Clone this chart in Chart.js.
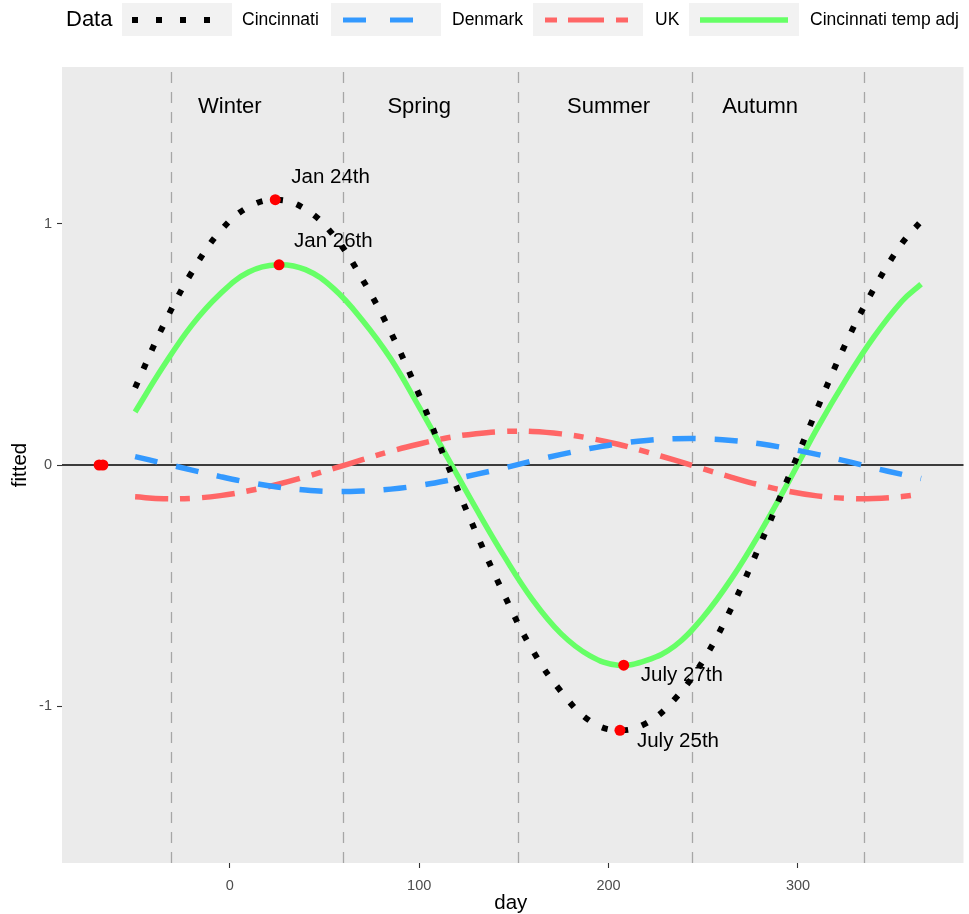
<!DOCTYPE html>
<html><head><meta charset="utf-8">
<script src="https://cdn.jsdelivr.net/npm/chart.js@4.4.1/dist/chart.umd.min.js"></script>
<style>html,body{margin:0;padding:0;background:#fff;} #wrap{width:969px;height:914px;}</style>
</head><body><div id="wrap"><canvas id="c" width="969" height="914"></canvas></div>
<script>
// ---- data ----
const days          = [-50, -35, -20, -5, 10, 25, 40, 55, 70, 85, 100, 115, 130, 145, 160, 175, 190, 205, 220, 235, 250, 265, 280, 295, 310, 325, 340, 355, 365];
const cincinnati    = [0.32, 0.58, 0.80, 0.97, 1.07, 1.10, 1.06, 0.95, 0.77, 0.55, 0.29, 0.00, -0.28, -0.54, -0.77, -0.94, -1.06, -1.10, -1.07, -0.97, -0.81, -0.59, -0.33, -0.05, 0.23, 0.50, 0.73, 0.92, 1.01];
const denmark       = [0.035, 0.007, -0.021, -0.048, -0.072, -0.091, -0.104, -0.110, -0.108, -0.100, -0.085, -0.064, -0.039, -0.012, 0.017, 0.044, 0.068, 0.088, 0.102, 0.109, 0.109, 0.102, 0.088, 0.068, 0.044, 0.017, -0.012, -0.039, -0.056];
const uk            = [-0.132, -0.140, -0.138, -0.127, -0.107, -0.081, -0.049, -0.014, 0.022, 0.057, 0.087, 0.113, 0.130, 0.139, 0.139, 0.129, 0.111, 0.086, 0.054, 0.020, -0.016, -0.051, -0.083, -0.109, -0.128, -0.138, -0.139, -0.131, -0.121];
const cincinnatiAdj = [0.22, 0.41, 0.58, 0.71, 0.80, 0.83, 0.81, 0.73, 0.60, 0.44, 0.24, 0.03, -0.18, -0.38, -0.56, -0.70, -0.79, -0.83, -0.81, -0.75, -0.63, -0.47, -0.28, -0.07, 0.15, 0.35, 0.53, 0.68, 0.75];
const seriesNames   = ['Cincinnati', 'Denmark', 'UK', 'Cincinnati temp adj'];
const legendTitle   = 'Data';

const peakDays   = [24, 26, 208, 206];
const peakValues = [1.1, 0.83, -0.83, -1.1];
const peakLabels = ['Jan 24th', 'Jan 26th', 'July 27th', 'July 25th'];
const zeroDays   = [-69, -67];

const seasonBreaks  = [-31, 60, 152, 244, 335];
const seasonNames   = ['Winter', 'Spring', 'Summer', 'Autumn'];
const seasonCenters = [0, 100, 200, 280];
const seasonLabelY  = 1.485;

const xTicks = [0, 100, 200, 300];
const yTicks = [-1, 0, 1];
const xTitle = 'day';
const yTitle = 'fitted';

// ---- styling ----
const FONT = '"Liberation Sans", Arial, Helvetica, sans-serif';
const COL = {cin:'#000000', den:'#3399FF', uk:'#FF6666', adj:'#66FF66'};
const labelOffsets = [[16,-22],[15,-23],[17,10],[17,11]];

const pts = (vals) => days.map((d,i)=>({x:d, y:vals[i]}));

const deco = {
  id: 'deco',
  beforeDraw(chart){
    const {ctx, chartArea:a} = chart;
    ctx.save();
    ctx.fillStyle = '#EBEBEB';
    ctx.fillRect(a.left, a.top, a.right-a.left, a.bottom-a.top);
    ctx.restore();
  },
  beforeDatasetsDraw(chart){
    const {ctx, chartArea:a, scales:{x, y}} = chart;
    ctx.save();
    ctx.strokeStyle = '#A6A6A6'; ctx.lineWidth = 1.3; ctx.setLineDash([11,9]);
    seasonBreaks.forEach(d => {
      const px = Math.round(x.getPixelForValue(d)) + 0.5;
      ctx.beginPath(); ctx.moveTo(px, a.bottom); ctx.lineTo(px, a.top); ctx.stroke();
    });
    ctx.setLineDash([]);
    ctx.strokeStyle = '#000'; ctx.lineWidth = 1.5;
    const py = y.getPixelForValue(0);
    ctx.beginPath(); ctx.moveTo(a.left, py); ctx.lineTo(a.right, py); ctx.stroke();
    ctx.fillStyle = '#000'; ctx.font = '22px ' + FONT; ctx.textAlign = 'center'; ctx.textBaseline = 'middle';
    seasonNames.forEach((n,i) => ctx.fillText(n, x.getPixelForValue(seasonCenters[i]), y.getPixelForValue(seasonLabelY)));
    ctx.restore();
  },
  afterDatasetsDraw(chart){
    const {ctx, scales:{x, y}} = chart;
    ctx.save();
    ctx.fillStyle = '#000'; ctx.font = '20.5px ' + FONT; ctx.textAlign = 'left'; ctx.textBaseline = 'middle';
    peakLabels.forEach((t,i) => {
      ctx.fillText(t, x.getPixelForValue(peakDays[i]) + labelOffsets[i][0], y.getPixelForValue(peakValues[i]) + labelOffsets[i][1]);
    });
    ctx.restore();
  },
  afterDraw(chart){
    const {ctx, chartArea:a} = chart;
    ctx.save();
    // axis titles
    ctx.fillStyle = '#000'; ctx.font = '20.5px ' + FONT; ctx.textAlign = 'center'; ctx.textBaseline = 'middle';
    ctx.fillText(xTitle, (a.left + a.right)/2 - 2, 903);
    ctx.save(); ctx.translate(20, (a.top + a.bottom)/2); ctx.rotate(-Math.PI/2); ctx.fillText(yTitle, 0, 0); ctx.restore();
    // legend
    ctx.textAlign = 'left';
    ctx.font = '22px ' + FONT;
    ctx.fillText(legendTitle, 66, 20);
    const boxes = [122, 331, 533, 689];
    const labX  = [242, 452, 655, 810];
    ctx.fillStyle = '#F2F2F2';
    boxes.forEach(b => ctx.fillRect(b, 3, 110, 33));
    ctx.fillStyle = '#000'; ctx.font = '17.5px ' + FONT;
    seriesNames.forEach((n,i) => ctx.fillText(n, labX[i], 20));
    const keys = [
      {c:COL.cin, w:6, dash:[6,18], x0:132, x1:212},
      {c:COL.den, w:5, dash:[23,24], x0:343, x1:414},
      {c:COL.uk,  w:5, dash:[12,11,36,12], x0:545, x1:628},
      {c:COL.adj, w:5.5, dash:[], x0:700, x1:788}
    ];
    ctx.lineCap = 'butt';
    keys.forEach(k => {
      ctx.strokeStyle = k.c; ctx.lineWidth = k.w; ctx.setLineDash(k.dash);
      ctx.beginPath(); ctx.moveTo(k.x0, 20); ctx.lineTo(k.x1, 20); ctx.stroke();
    });
    ctx.restore();
  }
};

const lineDs = (label, vals, color, width, dash) => ({
  type: 'scatter', label, data: pts(vals), showLine: true, borderColor: color, backgroundColor: color,
  borderWidth: width, borderDash: dash, borderCapStyle: 'butt', pointRadius: 0, pointHoverRadius: 0, tension: 0.4, fill: false
});

new Chart(document.getElementById('c'), {
  type: 'scatter',
  data: {
    datasets: [
      {type:'scatter', label:'peaks', data: peakDays.map((d,i)=>({x:d, y:peakValues[i]})).concat(zeroDays.map(d=>({x:d, y:0}))),
       pointRadius: 5.5, pointBackgroundColor: '#FF0000', pointBorderWidth: 0, showLine: false},
      lineDs(seriesNames[0], cincinnati, COL.cin, 6, [6,14.5]),
      lineDs(seriesNames[1], denmark, COL.den, 5.5, [23,19]),
      lineDs(seriesNames[2], uk, COL.uk, 5.5, [33,12,10,12]),
      lineDs(seriesNames[3], cincinnatiAdj, COL.adj, 5.5, [])
    ]
  },
  options: {
    responsive: false, animation: false,
    layout: {padding: {top: 67, right: 0, left: 0, bottom: 0}},
    plugins: {legend: {display: false}, tooltip: {enabled: false}},
    scales: {
      x: {
        type: 'linear', min: -88.6, max: 387.4,
        afterBuildTicks: s => { s.ticks = xTicks.map(v => ({value: v})); },
        afterFit: s => { s.height = 51; },
        ticks: {color: '#4D4D4D', font: {size: 14.5, family: FONT}, padding: 9, maxRotation: 0, autoSkip: false},
        grid: {drawOnChartArea: false, drawTicks: true, tickLength: 5, tickColor: '#333333', tickWidth: 1.1},
        border: {display: false}
      },
      y: {
        type: 'linear', min: -1.65, max: 1.65,
        afterBuildTicks: s => { s.ticks = yTicks.map(v => ({value: v})); },
        afterFit: s => { s.width = 62; },
        ticks: {color: '#4D4D4D', font: {size: 14.5, family: FONT}, padding: 5, autoSkip: false},
        grid: {drawOnChartArea: false, drawTicks: true, tickLength: 5, tickColor: '#333333', tickWidth: 1.1},
        border: {display: false}
      }
    }
  },
  plugins: [deco]
});
</script></body></html>
